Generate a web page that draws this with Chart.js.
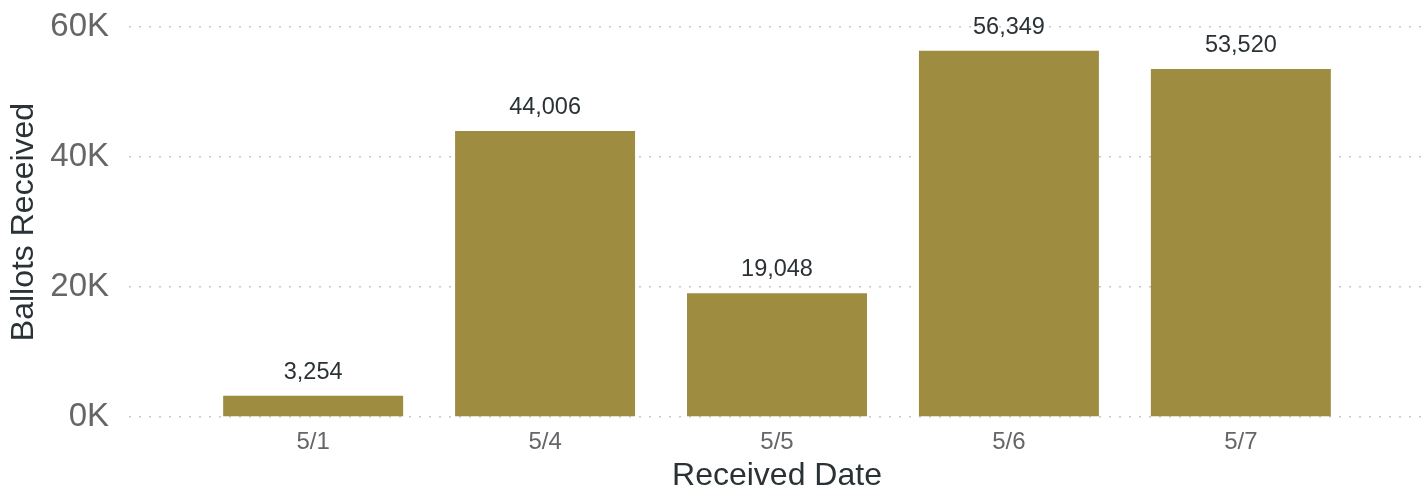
<!DOCTYPE html>
<html>
<head>
<meta charset="utf-8">
<script src="https://cdn.jsdelivr.net/npm/chart.js@4.4.0/dist/chart.umd.min.js"></script>
<style>
  html, body { margin: 0; padding: 0; background: #fff; }
  #wrap { width: 1425px; height: 489px; position: relative; }
</style>
</head>
<body>
<div id="wrap"><canvas id="grafico"></canvas></div>
<script>
// datos
const fechas = ['5/1', '5/4', '5/5', '5/6', '5/7'];
const boletas = [3254, 44006, 19048, 56349, 53520];
const ticksY = [0, 20000, 40000, 60000];

const fuente = "'Liberation Sans', Arial, sans-serif";
const colorBarra = '#9e8c41';

// etiquetas de valor encima de cada barra
const etiquetasValor = {
    id: 'etiquetasValor',
    afterDatasetsDraw(chart) {
        const ctx = chart.ctx;
        const meta = chart.getDatasetMeta(0);
        ctx.save();
        ctx.font = `23.5px ${fuente}`;
        ctx.fillStyle = '#2b3236';
        ctx.textAlign = 'center';
        ctx.textBaseline = 'alphabetic';
        meta.data.forEach((barra, i) => {
            ctx.fillText(boletas[i].toLocaleString('en-US'), barra.x, barra.y - 17);
        });
        ctx.restore();
    }
};

new Chart(document.getElementById('grafico'), {
    type: 'bar',
    data: {
        datasets: [{
            label: 'Ballots Received',
            data: boletas.map((v, i) => ({ x: i, y: v })),
            backgroundColor: colorBarra,
            barPercentage: 0.776,
            categoryPercentage: 1
        }]
    },
    options: {
        responsive: true,
        maintainAspectRatio: false,
        animation: false,
        layout: { padding: { top: 27, right: 0, left: 0, bottom: 0 } },
        plugins: { legend: { display: false }, tooltip: { enabled: false } },
        scales: {
            x: {
                type: 'linear',
                offset: false,
                min: -0.794,
                max: 4.794,
                afterBuildTicks: scale => { scale.ticks = fechas.map((f, i) => ({ value: i })); },
                afterFit: scale => { scale.height = 72; },
                grid: { display: false, drawTicks: false },
                border: { display: false },
                ticks: {
                    padding: 11,
                    color: '#666666',
                    font: { family: fuente, size: 24 },
                    callback: v => fechas[v] ?? ''
                },
                title: {
                    display: true,
                    text: 'Received Date',
                    color: '#2b3236',
                    font: { family: fuente, size: 32, lineHeight: 0.8 },
                    padding: { top: 0, bottom: 0 }
                }
            },
            y: {
                min: 0,
                max: 60000,
                afterBuildTicks: scale => { scale.ticks = ticksY.map(v => ({ value: v })); },
                afterFit: scale => {
                    scale.width = 129;
                    scale.paddingTop = 0;
                    scale.paddingBottom = 0;
                },
                grid: {
                    drawTicks: false,
                    color: '#c8c8c8',
                    lineWidth: 1.5,
                    tickBorderDash: [2, 8]
                },
                border: { display: false, dash: [2, 8] },
                ticks: {
                    padding: 20,
                    color: '#666666',
                    font: { family: fuente, size: 33 },
                    callback: v => (v / 1000) + 'K'
                },
                title: {
                    display: true,
                    text: 'Ballots Received',
                    color: '#2b3236',
                    font: { family: fuente, size: 32 },
                    padding: { top: 5, bottom: 0 }
                }
            }
        }
    },
    plugins: [etiquetasValor]
});
</script>
</body>
</html>
